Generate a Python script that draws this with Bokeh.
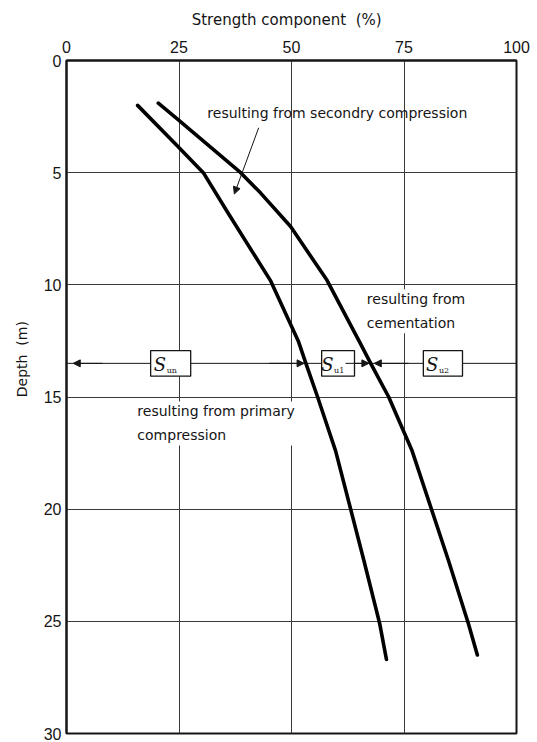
from bokeh.plotting import figure
from bokeh.models import Label, Arrow, NormalHead, Range1d, FixedTicker
from bokeh.embed import file_html
from bokeh.resources import INLINE

# ---- data ----
x_ticks = [0, 25, 50, 75, 100]
y_ticks = [0, 5, 10, 15, 20, 25, 30]

# boundary between "primary compression" and "secondary compression" parts
primary_pct = [15.8, 24.6, 30.4, 35.9, 45.3, 51.5, 53.2, 55.8, 59.8, 66.1, 69.6, 71.1]
primary_depth = [2.0, 3.8, 5.0, 6.8, 9.8, 12.5, 13.5, 15.0, 17.4, 22.3, 25.1, 26.7]

# boundary between "secondary compression" and "cementation" parts
cement_pct = [20.4, 24.6, 38.7, 43.1, 49.8, 57.9, 65.0, 67.6, 71.6, 76.8, 84.9, 89.3, 91.3]
cement_depth = [1.9, 2.6, 5.0, 5.9, 7.4, 9.8, 12.5, 13.5, 15.0, 17.4, 22.3, 25.1, 26.5]

marker_depth = 13.5
box_names = ["un", "u1", "u2"]

FONT = "DejaVu Sans"
TICKFONT = "Liberation Sans"
INK = "#151515"
NB = "\u00a0"

p = figure(width=537, height=742, x_range=Range1d(0, 100), y_range=Range1d(30, 0),
           x_axis_location="above", output_backend="svg", toolbar_location=None,
           min_border_left=66, min_border_right=21, min_border_top=60, min_border_bottom=9,
           background_fill_color="white", border_fill_color="white")

p.outline_line_color = INK
p.outline_line_width = 2

for ax in (p.xaxis[0], p.yaxis[0]):
    ax.axis_line_color = INK
    ax.axis_line_width = 2
    ax.major_tick_in = 0
    ax.major_tick_out = 0
    ax.minor_tick_in = 0
    ax.minor_tick_out = 0
    ax.major_label_text_font = TICKFONT
    ax.major_label_text_font_size = "16px"
    ax.major_label_text_color = INK
    ax.axis_label_text_font = FONT
    ax.axis_label_text_font_style = "normal"
    ax.axis_label_text_color = INK

p.xaxis.ticker = FixedTicker(ticks=x_ticks)
p.yaxis.ticker = FixedTicker(ticks=y_ticks)
p.xaxis.major_label_standoff = 8
p.yaxis.major_label_standoff = 5

p.xaxis.axis_label = "Strength component" + NB * 2 + "(%)" + NB * 2
p.xaxis.axis_label_text_font_size = "15px"
p.xaxis.axis_label_standoff = 9

# leading no-break spaces shift the rotated title upward like in the reference
p.yaxis.axis_label = NB * 17 + "Depth" + NB * 2 + "(m)"
p.yaxis.axis_label_text_font_size = "14px"
p.yaxis.axis_label_standoff = 11

p.xgrid.ticker = FixedTicker(ticks=[25, 50, 75])
p.ygrid.ticker = FixedTicker(ticks=[5, 10, 15, 20, 25])
p.grid.grid_line_color = "#3a3a3a"
p.grid.grid_line_width = 1

# horizontal dimension line
p.line([0, 100], [marker_depth, marker_depth], line_color=INK, line_width=1)

# curves
p.line(primary_pct, primary_depth, line_color="black", line_width=3.6,
       line_cap="round", line_join="round")
p.line(cement_pct, cement_depth, line_color="black", line_width=3.6,
       line_cap="round", line_join="round")

# arrow heads on the dimension line
def head(x0, x1):
    p.add_layout(Arrow(x_start=x0, y_start=marker_depth, x_end=x1, y_end=marker_depth,
                       line_color=INK, line_width=1,
                       end=NormalHead(size=7, fill_color=INK, line_color=INK)))

head(8, 1.5)
head(45, 52.8)
head(62, 67.2)
head(76, 68.4)

# boxes with S labels
boxes = [(18.7, 27.6), (56.7, 64.0), (79.3, 88.0)]
for (x0, x1), sub in zip(boxes, box_names):
    p.quad(left=[x0], right=[x1], top=[12.93], bottom=[14.07],
           fill_color="white", line_color=INK, line_width=1.3)
    xc = (x0 + x1) / 2
    p.add_layout(Label(x=xc - 1.0, y=marker_depth + 0.05, text="S", text_align="right",
                       text_baseline="middle", text_font="DejaVu Serif",
                       text_font_style="italic", text_font_size="18px", text_color=INK))
    p.add_layout(Label(x=xc - 0.9, y=marker_depth + 0.3, text=sub, text_align="left",
                       text_baseline="middle", text_font="DejaVu Serif",
                       text_font_size="8px", text_color=INK))

# annotations
p.add_layout(Label(x=31.3, y=2.36, text="resulting from secondry compression",
                   text_align="left", text_baseline="middle",
                   text_font=FONT, text_font_size="14px", text_color=INK))
p.add_layout(Arrow(x_start=42.7, y_start=3.0, x_end=37.3, y_end=5.95,
                   line_color=INK, line_width=1,
                   end=NormalHead(size=7, fill_color=INK, line_color=INK)))

p.add_layout(Label(x=66.3, y=10.2, text="resulting from\ncementation",
                   text_align="left", text_baseline="top", text_line_height=1.5,
                   text_font=FONT, text_font_size="14px", text_color=INK,
                   background_fill_color="white", padding=2))

p.add_layout(Label(x=15.3, y=15.2, text="resulting from primary\ncompression",
                   text_align="left", text_baseline="top", text_line_height=1.5,
                   text_font=FONT, text_font_size="14px", text_color=INK,
                   background_fill_color="white", padding=2))

open("out.html", "w").write(file_html(p, INLINE))
